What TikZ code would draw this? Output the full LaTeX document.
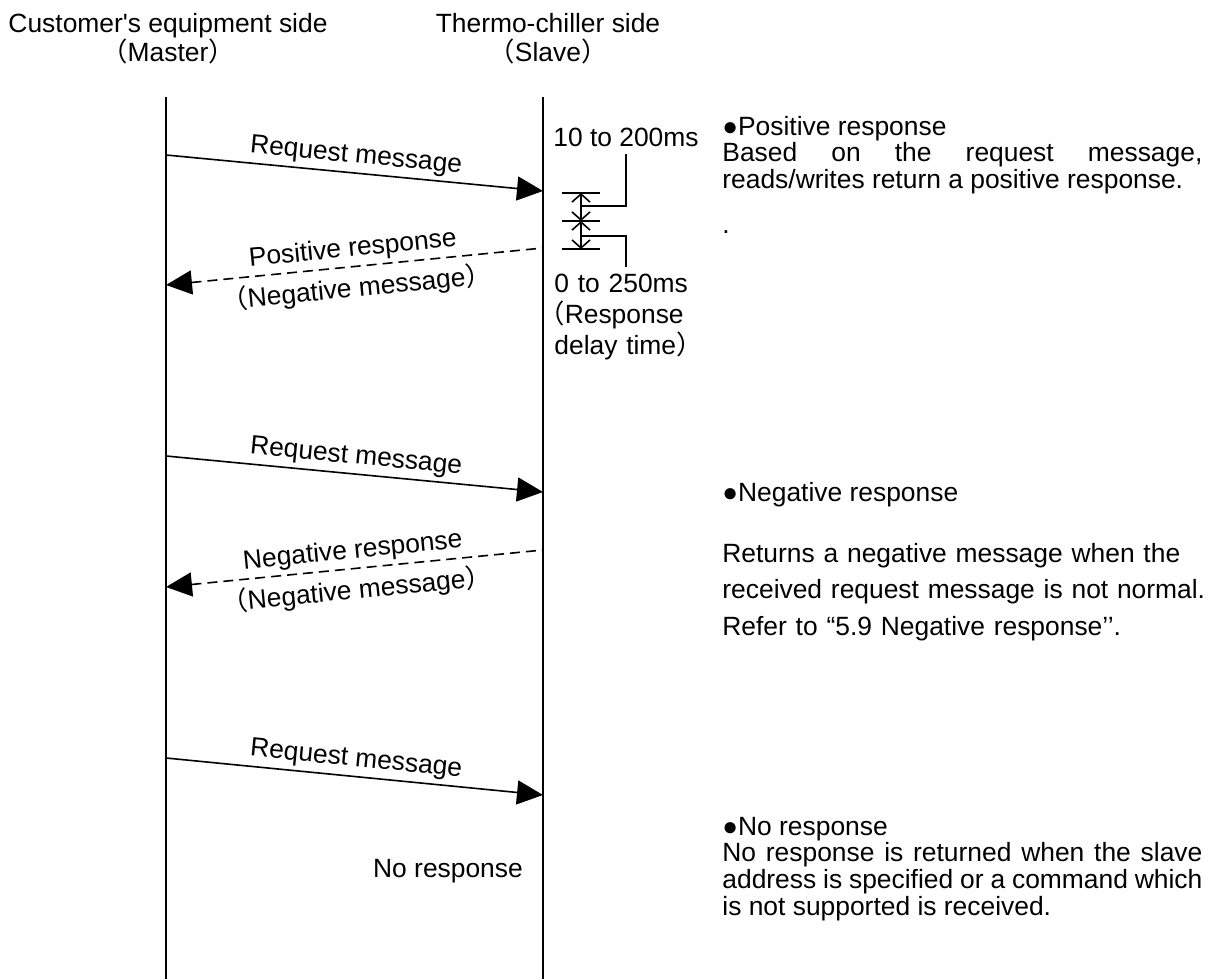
\documentclass[tikz,border=0pt]{standalone}
\usepackage{fontspec}
\setmainfont{Liberation Sans}
\newfontfamily\cjk{Noto Sans CJK JP}
\newfontfamily\apfont{Liberation Sans}
\usetikzlibrary{arrows.meta}
\tolerance=9999
\hyphenpenalty=10000

% full-width brackets, straight quote and bullet
\newcommand{\fwl}{{\cjk （}}
\newcommand{\fwr}{{\cjk ）}}
\newcommand{\apos}{{\apfont '}}
\newcommand{\bul}{{\fontsize{13pt}{10pt}\selectfont ●}}

\tikzset{
  lifeline/.style={line width=0.8pt},
  reqmsg/.style={line width=0.8pt,-{Triangle[length=13pt,width=12pt]}},
  rspmsg/.style={line width=0.8pt,{Triangle[length=13pt,width=12pt]}-,dash pattern=on 5pt off 3pt},
  msglbl/.style={inner sep=2pt,sloped},
  note/.style={anchor=base west,inner sep=0pt,text width=240pt,align=justify},
  delaytick/.style={line width=0.8pt},
  delaydim/.style={line width=0.8pt,{Straight Barb[length=4pt,width=9pt]}-{Straight Barb[length=4pt,width=9pt]}},
}

\begin{document}
\begin{tikzpicture}[x=0.5pt,y=-0.5pt,font=\fontsize{13.2pt}{13.4pt}\selectfont]
  \useasboundingbox (0,0) rectangle (1210,979);

  % lifelines
  \coordinate (m0) at (166,97);
  \coordinate (m1) at (166,979);
  \coordinate (s0) at (543,97);
  \coordinate (s1) at (543,979);
  \draw[lifeline] (m0) -- (m1);
  \draw[lifeline] (s0) -- (s1);
  \node[anchor=base] (mtitle) at (168,33) {Customer\apos s equipment side};
  \node[anchor=base] (mrole) at (168,62) {\fwl Master\fwr};
  \node[anchor=base] (stitle) at (548,33) {Thermo-chiller side};
  \node[anchor=base] (srole) at (548,62) {\fwl Slave\fwr};

  % request messages
  \foreach \n/\a/\b in {1/155/191,2/456/492,3/758/795}{
    \coordinate (req\n a) at (166,\a);
    \coordinate (req\n b) at (543,\b);
    \draw[reqmsg] (req\n a) -- node[msglbl,above] {Request message} (req\n b);
  }

  % responses
  \coordinate (rsp1a) at (166,285);
  \coordinate (rsp1b) at (543,248);
  \draw[rspmsg] (rsp1a) -- node[msglbl,above] {Positive response}
    node[msglbl,below,inner sep=3.5pt] {\fwl Negative message\fwr} (rsp1b);
  \coordinate (rsp2a) at (166,587);
  \coordinate (rsp2b) at (543,550);
  \draw[rspmsg] (rsp2a) -- node[msglbl,above] {Negative response}
    node[msglbl,below,inner sep=3.5pt] {\fwl Negative message\fwr} (rsp2b);
  \node[anchor=base] (nores) at (448,877) {No response};

  % response delay
  \foreach \y/\p in {193/a,221/b,249/c}{
    \coordinate (dt\p l) at (562,\y);
    \coordinate (dt\p r) at (600,\y);
    \draw[delaytick] (dt\p l) -- (dt\p r);
  }
  \coordinate (dta) at (581,193);
  \coordinate (dtb) at (581,221);
  \coordinate (dtc) at (581,249);
  \draw[delaydim] (dta) -- (dtb);
  \draw[delaydim] (dtb) -- (dtc);
  \node[anchor=base] (t200) at (626,147) {10 to 200ms};
  \node[anchor=base west,text width=75pt,align=left,inner sep=0pt,
    font=\fontsize{13.2pt}{15.5pt}\selectfont] (t250) at (554,292)
    {0 to 250ms\\\hspace*{-8pt}\fwl Response\\delay time\fwr};
  \coordinate (ld1) at (581,206);
  \coordinate (ld2) at (581,236);
  \coordinate (ld2e) at (626,267);
  \draw[delaytick] (ld1) -| (t200.south);
  \draw[delaytick] (ld2) -| (ld2e);

  % notes
  \node[note] (posnote) at (722,135)
    {\bul Positive response\\Based on the request message, reads/writes return a positive response.};
  \node[anchor=base west,inner sep=0pt] (dot) at (722,233) {.};
  \node[anchor=base west,inner sep=0pt] (neghead) at (722,501) {\bul Negative response};
  \node[anchor=base west,text width=262pt,align=left,inner sep=0pt,
    font=\fontsize{13.2pt}{18.3pt}\selectfont] (negnote) at (722,562)
    {Returns a negative message when the\\received request message is not normal.\\Refer to “5.9 Negative response’’.};
  \node[note] (nonote) at (722,835)
    {\bul No response\\No response is returned when the slave\linebreak address is specified or a command which\linebreak is not supported is received.};
\end{tikzpicture}
\end{document}
